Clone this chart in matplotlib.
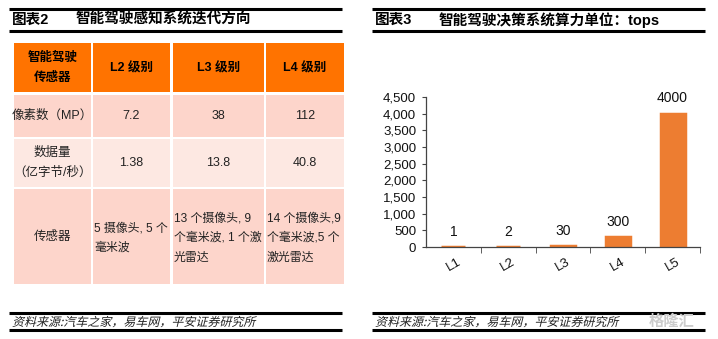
import matplotlib.pyplot as plt
from matplotlib.patches import Rectangle, PathPatch
from matplotlib.textpath import TextPath
from matplotlib.font_manager import FontProperties
from matplotlib.transforms import Affine2D

plt.rcParams['font.family'] = ['Liberation Sans', 'Noto Sans CJK SC']

# table data (left panel)
col_headers = ["智能驾驶\n传感器", "L2 级别", "L3 级别", "L4 级别"]
row_labels = ["像素数（MP）", "数据量\n（亿字节/秒）", "传感器"]
pixels_mp = ["7.2", "38", "112"]
data_rate = ["1.38", "13.8", "40.8"]
sensors = ["5 摄像头, 5 个\n毫米波",
           "13 个摄像头, 9\n个毫米波, 1 个激\n光雷达",
           "14 个摄像头,9\n个毫米波,5 个\n激光雷达"]

# bar data (right panel)
levels = ["L1", "L2", "L3", "L4", "L5"]
tops = [1, 2, 30, 300, 4000]
yticks = [0, 500, 1000, 1500, 2000, 2500, 3000, 3500, 4000, 4500]

W, H = 718, 339
fig = plt.figure(figsize=(W / 100, H / 100), dpi=100)
bg = fig.add_axes([0, 0, 1, 1])
bg.set_xlim(0, W)
bg.set_ylim(H, 0)
bg.axis('off')

ORANGE = "#FF7300"
PINK = "#FDD5CB"
PINK2 = "#FDE8E2"


def italic_text(x, y, s, size=12):
    # CJK font has no italic, so skew the glyph outlines
    tp = TextPath((0, 0), s, size=size, prop=FontProperties(family='Noto Sans CJK SC'))
    tr = Affine2D().skew_deg(14, 0).scale(1, -1).translate(x, y)
    bg.add_patch(PathPatch(tr.transform_path(tp), fc="#222222", ec="none", lw=0))


def panel_frame(x0, x1, num, title, source):
    bg.plot([x0, x1], [8.5, 8.5], color="black", lw=2.2, solid_capstyle="butt")
    bg.plot([x0, x1], [31, 31], color="black", lw=2.2, solid_capstyle="butt")
    bg.text(x0 + 3, 20, num, fontsize=10.5, fontweight="bold", va="center", ha="left")
    bg.text(x0 + 67, 20, title, fontsize=10.5, fontweight="bold", va="center", ha="left")
    bg.plot([x0, x1], [312.5, 312.5], color="black", lw=2.2, solid_capstyle="butt")
    bg.plot([x0, x1], [330, 330], color="black", lw=2.2, solid_capstyle="butt")
    italic_text(x0 + 3, 326, source, size=12)


src = "资料来源:汽车之家，易车网，平安证券研究所"
panel_frame(9, 342, "图表2", "智能驾驶感知系统迭代方向", src)
panel_frame(372, 705, "图表3", "智能驾驶决策系统算力单位：tops", src)

# table layout
cols = [(14, 91), (93, 170), (173, 264), (266, 344)]
rows = [(43, 92), (95, 137), (139, 187), (189, 284)]
row_colors = [ORANGE, PINK, PINK2, PINK]

for r, (ry0, ry1) in enumerate(rows):
    for c, (cx0, cx1) in enumerate(cols):
        bg.add_patch(Rectangle((cx0, ry0), cx1 - cx0, ry1 - ry0, fc=row_colors[r], ec="none"))

for c, (cx0, cx1) in enumerate(cols):
    bg.text((cx0 + cx1) / 2, 68, col_headers[c], fontsize=9, fontweight="bold",
            ha="center", va="center", linespacing=1.9)

body = [pixels_mp, data_rate]
for r in range(2):
    ry0, ry1 = rows[r + 1]
    cy = (ry0 + ry1) / 2
    bg.text((cols[0][0] + cols[0][1]) / 2, cy, row_labels[r], fontsize=9,
            ha="center", va="center", color="#222222", linespacing=1.9)
    for c in range(3):
        cx0, cx1 = cols[c + 1]
        bg.text((cx0 + cx1) / 2, cy, body[r][c], fontsize=9, ha="center", va="center",
                color="#222222")

bg.text((cols[0][0] + cols[0][1]) / 2, 237, row_labels[2], fontsize=9,
        ha="center", va="center", color="#222222")
for c in range(3):
    cx0, cx1 = cols[c + 1]
    t = bg.text(cx0 + 1, 238, sensors[c], fontsize=8.6, ha="left", va="center",
                color="#222222", linespacing=1.85)
    clip = Rectangle((cx0, rows[3][0]), cx1 - cx0, rows[3][1] - rows[3][0],
                     transform=bg.transData, fc="none", ec="none")
    t.set_clip_on(True)
    t.set_clip_path(clip)

# bar chart
ax = fig.add_axes([426 / W, 1 - 247 / H, (700 - 426) / W, 150 / H])
x = list(range(len(levels)))
ax.bar(x, tops, width=0.44, color="#ED7D31", edgecolor="#ED7D31", linewidth=2.5)
for xi, v in zip(x, tops):
    ax.annotate(str(v), (xi, v), xytext=(0, 6), textcoords="offset points",
                ha="center", va="bottom", fontsize=10, color="#111111")
ax.set_xlim(-0.5, 4.5)
ax.set_ylim(0, 4500)
ax.set_yticks(yticks)
ax.set_yticklabels([f"{v:,}" for v in yticks], fontsize=9.5, color="#111111")
ax.set_xticks(x)
ax.set_xticklabels(levels, fontsize=9.5, rotation=30, color="#111111")
ax.tick_params(axis="x", length=0, pad=6)
ax.set_xticks([0.5, 1.5, 2.5, 3.5, 4.5], minor=True)
ax.tick_params(axis="x", which="minor", length=4, direction="out", color="#444444")
ax.tick_params(axis="y", length=3, direction="out", color="#444444", pad=4)
for s in ["top", "right"]:
    ax.spines[s].set_visible(False)
for s in ["left", "bottom"]:
    ax.spines[s].set_color("#444444")
    ax.spines[s].set_linewidth(0.9)
ax.patch.set_alpha(0)

# watermark
bg.text(672, 322, "格隆汇", fontsize=11, color="#CCCCCC", ha="center", va="center",
        fontweight="bold")

fig.savefig("out.png", dpi=100)
